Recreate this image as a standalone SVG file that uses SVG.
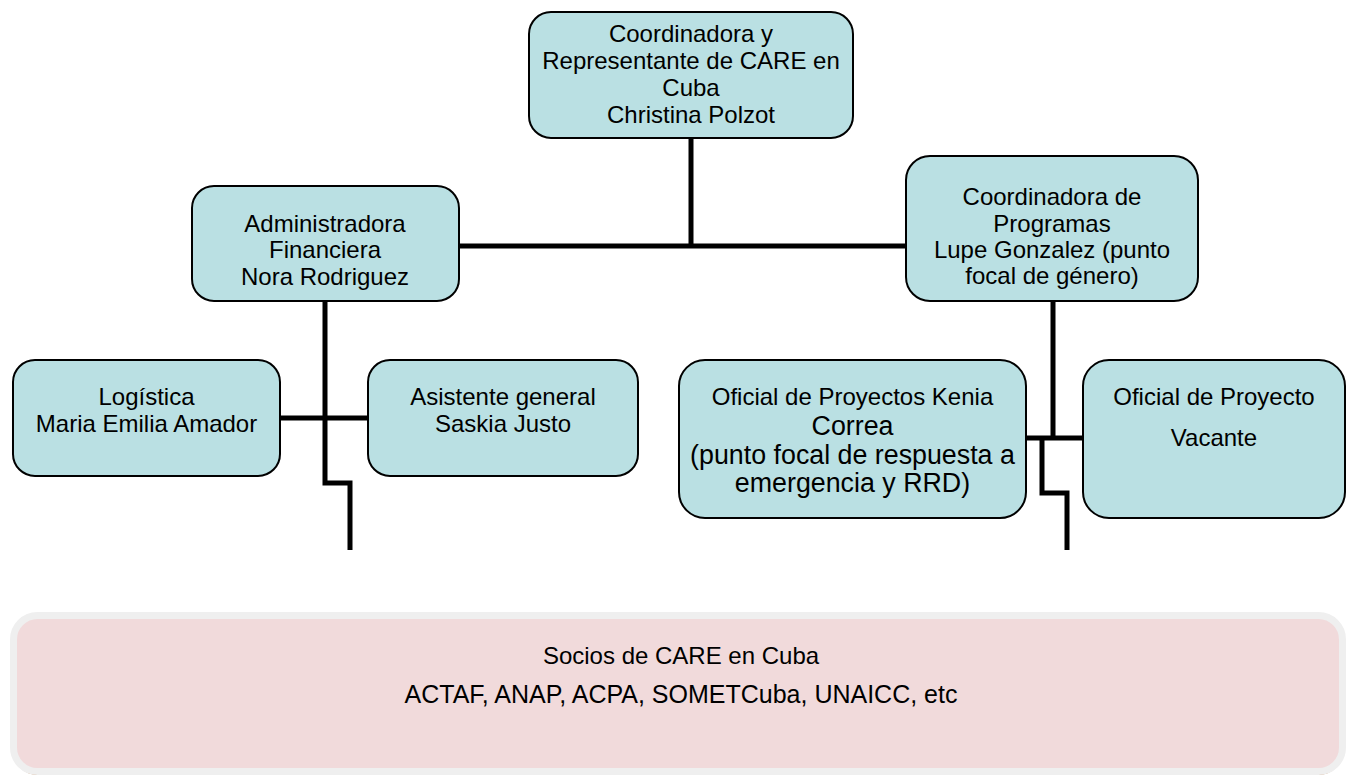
<svg xmlns="http://www.w3.org/2000/svg" width="1348" height="776" viewBox="0 0 1348 776">
<style>
.node{fill:#bae0e3;stroke:#000;stroke-width:2}
.t{font-family:"Liberation Sans",Arial,sans-serif;font-size:24px;fill:#000;text-anchor:middle}
.big{font-size:26.8px}
.c{fill:none;stroke:#000;stroke-width:5;stroke-linejoin:miter;stroke-linecap:butt}
</style>
<rect width="1348" height="776" fill="#fff"/>
<g id="connectors">
<path class="c" d="M691,138 V246"/>
<path class="c" d="M459,246 H906"/>
<path class="c" d="M325,301 V483 H350 V550"/>
<path class="c" d="M280,418 H368"/>
<path class="c" d="M1053,301 V438"/>
<path class="c" d="M1026,438 H1083"/>
<path class="c" d="M1042,438 V493 H1067 V550"/>
</g>
<g id="n-coordinadora">
<rect class="node" x="529" y="12" width="324" height="126" rx="22"/>
<text class="t" x="691" y="42">Coordinadora y</text>
<text class="t" x="691" y="69">Representante de CARE en</text>
<text class="t" x="691" y="96">Cuba</text>
<text class="t" x="691" y="123">Christina Polzot</text>
</g>
<g id="n-admin">
<rect class="node" x="192" y="186" width="267" height="115" rx="22"/>
<text class="t" x="325" y="232">Administradora</text>
<text class="t" x="325" y="258">Financiera</text>
<text class="t" x="325" y="285">Nora Rodriguez</text>
</g>
<g id="n-programas">
<rect class="node" x="906" y="156" width="292" height="145" rx="24"/>
<text class="t" x="1052" y="205">Coordinadora de</text>
<text class="t" x="1052" y="232">Programas</text>
<text class="t" x="1052" y="258">Lupe Gonzalez (punto</text>
<text class="t" x="1052" y="284">focal de género)</text>
</g>
<g id="n-logistica">
<rect class="node" x="13" y="360" width="267" height="116" rx="22"/>
<text class="t" x="146.5" y="405">Logística</text>
<text class="t" x="146.5" y="432">Maria Emilia Amador</text>
</g>
<g id="n-asistente">
<rect class="node" x="368" y="360" width="270" height="116" rx="22"/>
<text class="t" x="503" y="405">Asistente general</text>
<text class="t" x="503" y="432">Saskia Justo</text>
</g>
<g id="n-kenia">
<rect class="node" x="679" y="360" width="347" height="158" rx="26"/>
<text class="t" x="852.5" y="405">Oficial de Proyectos Kenia</text>
<text class="t big" x="852.5" y="435">Correa</text>
<text class="t big" x="852.5" y="464">(punto focal de respuesta a</text>
<text class="t big" x="852.5" y="492">emergencia y RRD)</text>
</g>
<g id="n-vacante">
<rect class="node" x="1083" y="360" width="262" height="158" rx="26"/>
<text class="t" x="1214" y="405">Oficial de Proyecto</text>
<text class="t" x="1214" y="446">Vacante</text>
</g>
<g id="n-socios">
<rect x="13.5" y="619" width="1329" height="156" rx="24" fill="#c8956a"/>
<rect x="13.5" y="615.5" width="1329" height="156" rx="24" fill="#f1dadb" stroke="#efefef" stroke-width="7"/>
<text class="t" x="681" y="664">Socios de CARE en Cuba</text>
<text class="t" x="681" y="703" style="font-size:25px">ACTAF, ANAP, ACPA, SOMETCuba, UNAICC, etc</text>
</g>
</svg>
